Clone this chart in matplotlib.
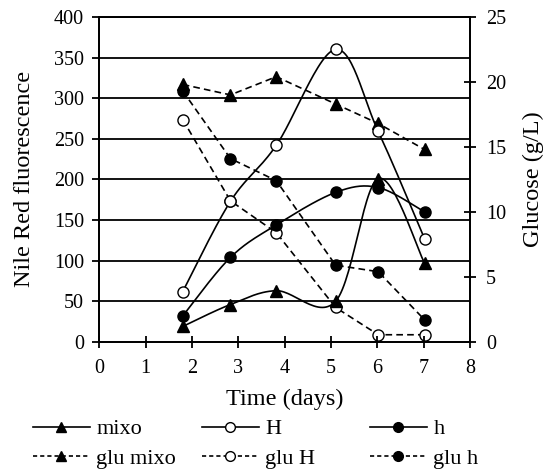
import numpy as np
import matplotlib
matplotlib.use("Agg")
import matplotlib.pyplot as plt
from matplotlib.lines import Line2D

plt.rcParams['font.family'] = ['Liberation Serif', 'DejaVu Serif']

days = [1.8, 2.83, 3.82, 5.1, 6.02, 7.02]
mixo = [19, 46, 63, 50, 201, 97]
H = [62, 173, 242, 360, 259, 127]
h = [32, 104, 144, 184, 190, 160]
glu_mixo = [19.8, 19.0, 20.4, 18.3, 16.8, 14.8]
glu_H = [17.1, 10.85, 8.4, 2.65, 0.55, 0.55]
glu_h = [19.3, 14.1, 12.4, 5.9, 5.4, 1.7]

x_ticks = list(range(0, 9))
left_ticks = list(range(0, 401, 50))
right_ticks = list(range(0, 26, 5))


def catmull_rom(x, y, n=30):
    x = np.asarray(x, float)
    y = np.asarray(y, float)
    P = np.column_stack([x, y])
    P = np.vstack([P[0], P, P[-1]])
    out = []
    for i in range(1, len(P) - 2):
        p0, p1, p2, p3 = P[i - 1], P[i], P[i + 1], P[i + 2]
        c1 = p1 + (p2 - p0) / 6.0
        c2 = p2 - (p3 - p1) / 6.0
        t = np.linspace(0, 1, n)[:, None]
        seg = ((1 - t) ** 3) * p1 + 3 * ((1 - t) ** 2) * t * c1 + 3 * (1 - t) * t ** 2 * c2 + t ** 3 * p2
        out.append(seg if i == 1 else seg[1:])
    out = np.vstack(out)
    return out[:, 0], out[:, 1]


fig = plt.figure(figsize=(5.49, 4.69), dpi=100)
ax = fig.add_axes([0.181, 0.271, 0.675, 0.693])
ax2 = ax.twinx()

ax.set_xlim(0, 8)
ax.set_ylim(0, 400)
ax2.set_ylim(0, 25)

for v in left_ticks[1:]:
    ax.axhline(v, color='black', lw=1.3, zorder=1)

lw = 1.2
ms = 8
dash_plot = (0, (4, 2.5))
# solid smoothed series
for data, mk, mfc in [(mixo, '^', 'black'), (H, 'o', 'white'), (h, 'o', 'black')]:
    sx, sy = catmull_rom(days, data)
    ax.plot(sx, sy, color='black', lw=lw, zorder=3)
    ax.plot(days, data, ls='none', marker=mk, ms=ms, mfc=mfc, mec='black', mew=1.0, zorder=4)

# dashed glucose series
for data, mk, mfc in [(glu_mixo, '^', 'black'), (glu_H, 'o', 'white'), (glu_h, 'o', 'black')]:
    ax2.plot(days, data, color='black', lw=lw, ls=dash_plot, marker=mk, ms=ms,
             mfc=mfc, mec='black', mew=1.0, zorder=4)

ax.set_xticks(x_ticks)
ax.set_yticks(left_ticks)
ax2.set_yticks(right_ticks)

for a in (ax, ax2):
    for s in a.spines.values():
        s.set_linewidth(1.3)
        s.set_color('black')

ax.tick_params(axis='x', direction='inout', length=8, width=1.3, labelsize=14.5, pad=8)
ax.tick_params(axis='y', direction='out', length=5, width=1.3, labelsize=14.5, pad=6)
ax2.tick_params(axis='y', direction='inout', length=9, width=1.3, labelsize=14.5, pad=7)

ax.set_xlabel('Time (days)', fontsize=17.5, labelpad=8)
ax.set_ylabel('Nile Red fluorescence', fontsize=17.5)
ax2.set_ylabel('Glucose (g/L)', fontsize=17.5)
ax.yaxis.set_label_coords(-0.175, 0.5)
ax2.yaxis.set_label_coords(1.143, 0.5)

ax.set_zorder(ax2.get_zorder() + 1)
ax.patch.set_visible(False)


def hnd(ls, mk, mfc):
    return Line2D([], [], color='black', lw=lw, ls=ls, marker=mk, ms=7, mfc=mfc, mec='black', mew=1.0)

dash = (0, (2.5, 1.8))
cols = [
    ([hnd('-', '^', 'black'), hnd(dash, '^', 'black')], ['mixo', 'glu mixo'], 0.060),
    ([hnd('-', 'o', 'white'), hnd(dash, 'o', 'white')], ['H', 'glu H'], 0.368),
    ([hnd('-', 'o', 'black'), hnd(dash, 'o', 'black')], ['h', 'glu h'], 0.674),
]
for hs, ls_, xpos in cols:
    fig.legend(hs, ls_, loc='upper left', bbox_to_anchor=(xpos, 0.107),
               frameon=False, fontsize=16, handlelength=2.55, handletextpad=0.3,
               labelspacing=0.4, borderpad=0, borderaxespad=0)

fig.savefig('out.png', dpi=100)
